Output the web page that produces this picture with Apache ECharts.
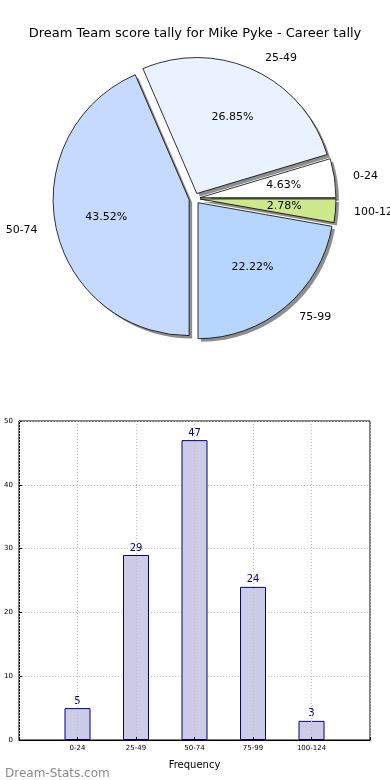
<!DOCTYPE html>
<html><head><meta charset="utf-8">
<script src="https://cdn.jsdelivr.net/npm/echarts@6/dist/echarts.min.js"></script>
<style>html,body{margin:0;padding:0;background:#fff}#c{width:390px;height:780px}</style>
</head><body><div id="c"></div>
<script>
const titleText = 'Dream Team score tally for Mike Pyke - Career tally';
const categories = ['0-24', '25-49', '50-74', '75-99', '100-124'];
const counts = [5, 29, 47, 24, 3];
const sliceColors = ['#FFFFFF', '#EAF2FF', '#C6DAFF', '#B6D6FF', '#CDE98B'];
const yTicks = [0, 10, 20, 30, 40, 50];
const xAxisName = 'Frequency';
const watermark = 'Dream-Stats.com';

const R = 136, CX = 194.5, CY = 198.5, OFF = 5.5, SH = 3;
const font = 'DejaVu Sans';

const pieData = categories.map((c, i) => ({
  name: c, value: counts[i], selected: true,
  itemStyle: { color: sliceColors[i] }
}));
const pieLabelData = categories.map((c, i) => ({ name: c, value: counts[i], selected: true }));
const shadowData = categories.map((c, i) => ({ name: c, value: counts[i], selected: true }));

// bar axis: padded categories so bars sit at 1..5 of a 0..6 range
const barCats = [''].concat(categories, ['']);
const barVals = [null].concat(counts, [null]);

const pieCommon = {
  type: 'pie', clockwise: false, startAngle: 0,
  selectedMode: 'multiple', selectedOffset: OFF,
  avoidLabelOverlap: false, silent: true,
  emphasis: { disabled: true }
};

const chart = echarts.init(document.getElementById('c'), null, { renderer: 'canvas' });
chart.setOption({
  animation: false,
  textStyle: { fontFamily: font },
  title: [
    { text: titleText, left: 'center', top: 22, textStyle: { fontFamily: font, fontSize: 13, fontWeight: 'normal', color: '#000' } },
    { text: watermark, left: 0, top: 763, textStyle: { fontFamily: font, fontSize: 12, fontWeight: 'normal', color: '#8a8a8a' } }
  ],
  grid: { left: 19, right: 20, top: 421, bottom: 40, show: true, borderColor: '#000', borderWidth: 1, containLabel: false },
  xAxis: {
    type: 'category', data: barCats, boundaryGap: false, z: 5,
    name: xAxisName, nameLocation: 'middle', nameGap: 20,
    nameTextStyle: { fontFamily: font, fontSize: 10, color: '#000' },
    axisLine: { lineStyle: { color: '#000', width: 1 } },
    axisTick: { show: true, inside: true, length: 3, lineStyle: { color: '#000' } },
    axisLabel: { fontFamily: font, fontSize: 7, color: '#000', margin: 5, interval: 0 },
    splitLine: { show: true, lineStyle: { color: '#bbb', type: [1, 2], width: 1 } }
  },
  yAxis: {
    type: 'value', min: yTicks[0], max: yTicks[yTicks.length - 1], interval: 10,
    axisLine: { show: true, lineStyle: { color: '#000', width: 1 } },
    axisTick: { show: true, inside: true, length: 3, lineStyle: { color: '#000' } },
    axisLabel: { fontFamily: font, fontSize: 7, color: '#000', margin: 6 },
    splitLine: { show: true, lineStyle: { color: '#bbb', type: [1, 2], width: 1 } }
  },
  series: [
    Object.assign({}, pieCommon, {
      center: [CX + SH, CY + SH], radius: [0, R], z: 1,
      itemStyle: { color: '#8e8e8e', borderWidth: 0 },
      label: { show: false }, labelLine: { show: false },
      data: shadowData
    }),
    Object.assign({}, pieCommon, {
      center: [CX, CY], radius: [0, R], z: 2,
      itemStyle: { borderColor: '#000', borderWidth: 0.8 },
      label: { show: true, position: 'outside', formatter: '{b}', fontFamily: font, fontSize: 11, color: '#000' },
      labelLine: { show: false, length: R * 0.1, length2: 0 },
      data: pieData
    }),
    Object.assign({}, pieCommon, {
      center: [CX, CY], radius: [R * 0.2, R], z: 3,
      itemStyle: { color: 'rgba(0,0,0,0)', borderWidth: 0 },
      label: { show: true, position: 'inside', formatter: '{d}%', fontFamily: font, fontSize: 11, color: '#000' },
      labelLine: { show: false },
      data: pieLabelData
    }),
    {
      type: 'bar', data: barVals, barWidth: 26,
      itemStyle: { color: '#CCCCE6', borderColor: '#000080', borderWidth: 1 },
      label: { show: true, position: 'top', distance: 2, fontFamily: font, fontSize: 10, color: '#000080' },
      silent: true
    }
  ]
});
</script></body></html>
